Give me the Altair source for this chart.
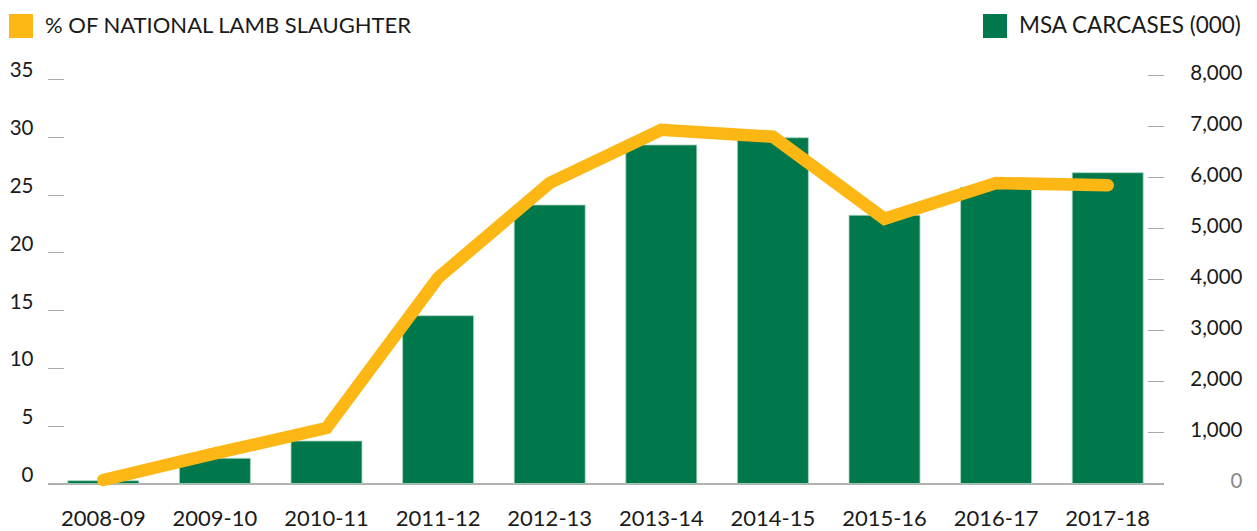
import altair as alt
import pandas as pd

years = ["2008-09", "2009-10", "2010-11", "2011-12", "2012-13",
         "2013-14", "2014-15", "2015-16", "2016-17", "2017-18"]
carcases = [55, 494, 832, 3286, 5454, 6630, 6772, 5253, 5800, 6087]
pct = [0.3, 2.6, 4.8, 17.8, 26.0, 30.6, 30.0, 22.9, 26.0, 25.8]
left_ticks = [0, 5, 10, 15, 20, 25, 30, 35]
right_ticks = [0, 1000, 2000, 3000, 4000, 5000, 6000, 7000, 8000]

BAR_LABEL = "MSA CARCASES (000)"
LINE_LABEL = "% OF NATIONAL LAMB SLAUGHTER"
GREEN = "#00784B"
ORANGE = "#FDB714"
FONT = "Lato"

df = pd.DataFrame({
    "year": years,
    "carcases": carcases,
    "pct": pct,
    "bar_series": BAR_LABEL,
    "line_series": LINE_LABEL,
})

x_enc = alt.X(
    "year:N", sort=years, title=None,
    scale=alt.Scale(paddingInner=0.364, paddingOuter=0.182),
    axis=alt.Axis(ticks=False, tickSize=0, labelAngle=0, labelFontSize=22,
                  labelColor="#1a1a1a", labelPadding=42, labelBaseline="alphabetic",
                  domainColor="#999999", domainWidth=1.5, grid=False),
)

bars = alt.Chart(df).mark_bar(stroke="#a8d5bd", strokeWidth=0.8).encode(
    x=x_enc,
    y=alt.Y("carcases:Q", title=None,
            scale=alt.Scale(domain=[0, 8000], nice=False),
            axis=alt.Axis(orient="right", values=right_ticks, format=",d",
                          offset=-16, tickSize=16, tickColor="#aaaaaa", tickWidth=1,
                          domain=False, grid=False, labelAlign="right",
                          labelPadding=78.5, labelBaseline="middle", labelOffset=-2,
                          labelFontSize=20.5,
                          labelColor={"condition": {"test": "datum.value == 0", "value": "#888888"},
                                      "value": "#1a1a1a"})),
    color=alt.Color("bar_series:N", title=None,
                    scale=alt.Scale(domain=[BAR_LABEL], range=[GREEN]),
                    legend=alt.Legend(orient="none", legendX=935.5, legendY=-61,
                                      symbolType="square", symbolSize=576,
                                      symbolStrokeWidth=0, labelFontSize=22.5,
                                      labelLimit=0,
                                      labelColor="#1a1a1a", labelOffset=12, padding=0)),
)

line = alt.Chart(df).mark_line(strokeWidth=12.5, strokeCap="round", strokeJoin="miter").encode(
    x=alt.X("year:N", sort=years),
    y=alt.Y("pct:Q", title=None,
            scale=alt.Scale(domain=[0, 35.34], nice=False),
            axis=alt.Axis(orient="left", values=left_ticks,
                          offset=-16, tickSize=16, tickColor="#aaaaaa", tickWidth=1,
                          domain=False, grid=False, labelPadding=14.5,
                          labelBaseline="middle", labelOffset=-8, labelFontSize=20.5,
                          labelColor="#1a1a1a")),
    color=alt.Color("line_series:N", title=None,
                    scale=alt.Scale(domain=[LINE_LABEL], range=[ORANGE]),
                    legend=alt.Legend(orient="none", legendX=-38.5, legendY=-61,
                                      symbolType="square", symbolSize=576,
                                      symbolFillColor=ORANGE, symbolStrokeColor=ORANGE,
                                      symbolStrokeWidth=0, labelLimit=0,
                                      labelFontSize=22, labelColor="#1a1a1a",
                                      labelOffset=12, padding=0)),
)

chart = alt.layer(bars, line).resolve_scale(
    y="independent", color="independent"
).properties(
    width=1116, height=408.5,
    padding={"left": 39.5, "top": 67, "right": 81.5, "bottom": 60},
    autosize=alt.AutoSizeParams(type="none"),
).configure(font=FONT).configure_view(stroke=None)

chart.save("out.html", embed_options={"renderer": "svg", "actions": False})
